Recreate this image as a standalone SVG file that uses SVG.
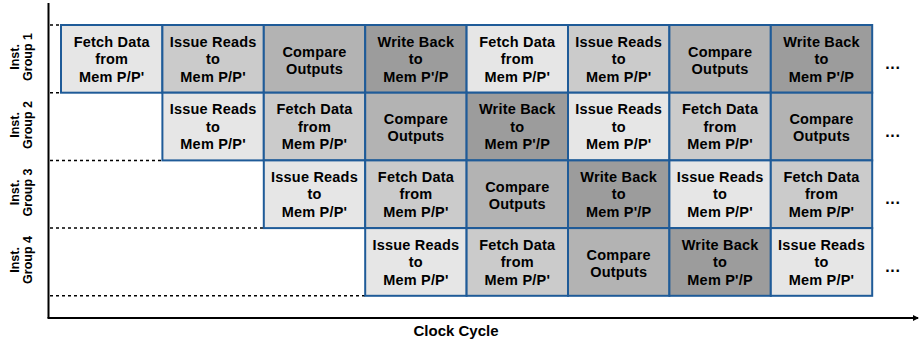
<svg xmlns="http://www.w3.org/2000/svg" width="920" height="340" viewBox="0 0 920 340">
<defs>
<style>
.c rect{stroke:#1f5b98;stroke-width:2}
.s1{fill:#e6e6e6}.s2{fill:#cbcbcb}.s3{fill:#b3b3b3}.s4{fill:#9c9c9c}
.c text,.t{font-family:"Liberation Sans",Arial,sans-serif;font-weight:bold;font-size:14.5px;letter-spacing:0.2px;text-anchor:middle;fill:#000}
.t{font-size:15px;letter-spacing:0}
.el{font-family:"Liberation Sans",Arial,sans-serif;font-weight:bold;font-size:16px;letter-spacing:0.8px;text-anchor:middle;fill:#000}
.lab{font-family:"Liberation Sans",Arial,sans-serif;font-weight:bold;font-size:12.5px;text-anchor:middle;fill:#000}
.dot{stroke:#000;stroke-width:1.5;stroke-dasharray:3,3;fill:none}
.ax{stroke:#000;stroke-width:2;fill:none}
</style>
<marker id="ah" markerWidth="6" markerHeight="6" refX="5" refY="3" orient="auto" markerUnits="userSpaceOnUse">
<path d="M0,0 L6,3 L0,6 Z" fill="#000"/>
</marker>
</defs>
<rect width="920" height="340" fill="#fff"/>

<g id="axes">
<path class="ax" d="M48.5,3 V318"/>
<path class="ax" d="M47.5,318 H918" marker-end="url(#ah)"/>
<path class="dot" d="M50,25 H61 M50,92.7 H61 M50,160.4 H162.4 M50,228.1 H263.8 M50,295.8 H365.2"/>
<text class="t" x="456" y="336">Clock Cycle</text>
</g>

<g id="row-labels">
<g transform="translate(0,57) rotate(-90)"><text class="lab" x="0" y="19">Inst.</text><text class="lab" x="0" y="32">Group 1</text></g>
<g transform="translate(0,125) rotate(-90)"><text class="lab" x="0" y="19">Inst.</text><text class="lab" x="0" y="32">Group 2</text></g>
<g transform="translate(0,192.5) rotate(-90)"><text class="lab" x="0" y="19">Inst.</text><text class="lab" x="0" y="32">Group 3</text></g>
<g transform="translate(0,260) rotate(-90)"><text class="lab" x="0" y="19">Inst.</text><text class="lab" x="0" y="32">Group 4</text></g>
</g>

<!-- Row 1 -->
<g id="g1c1" class="c"><rect class="s1" x="61" y="25" width="101.4" height="67.7"/><text x="111.7" y="46.5">Fetch Data</text><text x="111.7" y="64">from</text><text x="111.7" y="81.5">Mem P/P'</text></g>
<g id="g1c2" class="c"><rect class="s2" x="162.4" y="25" width="101.4" height="67.7"/><text x="213.1" y="46.5">Issue Reads</text><text x="213.1" y="64">to</text><text x="213.1" y="81.5">Mem P/P'</text></g>
<g id="g1c3" class="c"><rect class="s3" x="263.8" y="25" width="101.4" height="67.7"/><text x="314.5" y="56.5">Compare</text><text x="314.5" y="73.5">Outputs</text></g>
<g id="g1c4" class="c"><rect class="s4" x="365.2" y="25" width="101.4" height="67.7"/><text x="415.9" y="46.5">Write Back</text><text x="415.9" y="64">to</text><text x="415.9" y="81.5">Mem P'/P</text></g>
<g id="g1c5" class="c"><rect class="s1" x="466.6" y="25" width="101.4" height="67.7"/><text x="517.3" y="46.5">Fetch Data</text><text x="517.3" y="64">from</text><text x="517.3" y="81.5">Mem P/P'</text></g>
<g id="g1c6" class="c"><rect class="s2" x="568" y="25" width="101.4" height="67.7"/><text x="618.7" y="46.5">Issue Reads</text><text x="618.7" y="64">to</text><text x="618.7" y="81.5">Mem P/P'</text></g>
<g id="g1c7" class="c"><rect class="s3" x="669.4" y="25" width="101.4" height="67.7"/><text x="720.1" y="56.5">Compare</text><text x="720.1" y="73.5">Outputs</text></g>
<g id="g1c8" class="c"><rect class="s4" x="770.8" y="25" width="101.4" height="67.7"/><text x="821.5" y="46.5">Write Back</text><text x="821.5" y="64">to</text><text x="821.5" y="81.5">Mem P'/P</text></g>

<!-- Row 2 -->
<g id="g2c2" class="c"><rect class="s1" x="162.4" y="92.7" width="101.4" height="67.7"/><text x="213.1" y="114.2">Issue Reads</text><text x="213.1" y="131.7">to</text><text x="213.1" y="149.2">Mem P/P'</text></g>
<g id="g2c3" class="c"><rect class="s2" x="263.8" y="92.7" width="101.4" height="67.7"/><text x="314.5" y="114.2">Fetch Data</text><text x="314.5" y="131.7">from</text><text x="314.5" y="149.2">Mem P/P'</text></g>
<g id="g2c4" class="c"><rect class="s3" x="365.2" y="92.7" width="101.4" height="67.7"/><text x="415.9" y="124.2">Compare</text><text x="415.9" y="141.2">Outputs</text></g>
<g id="g2c5" class="c"><rect class="s4" x="466.6" y="92.7" width="101.4" height="67.7"/><text x="517.3" y="114.2">Write Back</text><text x="517.3" y="131.7">to</text><text x="517.3" y="149.2">Mem P'/P</text></g>
<g id="g2c6" class="c"><rect class="s1" x="568" y="92.7" width="101.4" height="67.7"/><text x="618.7" y="114.2">Issue Reads</text><text x="618.7" y="131.7">to</text><text x="618.7" y="149.2">Mem P/P'</text></g>
<g id="g2c7" class="c"><rect class="s2" x="669.4" y="92.7" width="101.4" height="67.7"/><text x="720.1" y="114.2">Fetch Data</text><text x="720.1" y="131.7">from</text><text x="720.1" y="149.2">Mem P/P'</text></g>
<g id="g2c8" class="c"><rect class="s3" x="770.8" y="92.7" width="101.4" height="67.7"/><text x="821.5" y="124.2">Compare</text><text x="821.5" y="141.2">Outputs</text></g>

<!-- Row 3 -->
<g id="g3c3" class="c"><rect class="s1" x="263.8" y="160.4" width="101.4" height="67.7"/><text x="314.5" y="181.9">Issue Reads</text><text x="314.5" y="199.4">to</text><text x="314.5" y="216.9">Mem P/P'</text></g>
<g id="g3c4" class="c"><rect class="s2" x="365.2" y="160.4" width="101.4" height="67.7"/><text x="415.9" y="181.9">Fetch Data</text><text x="415.9" y="199.4">from</text><text x="415.9" y="216.9">Mem P/P'</text></g>
<g id="g3c5" class="c"><rect class="s3" x="466.6" y="160.4" width="101.4" height="67.7"/><text x="517.3" y="191.9">Compare</text><text x="517.3" y="208.9">Outputs</text></g>
<g id="g3c6" class="c"><rect class="s4" x="568" y="160.4" width="101.4" height="67.7"/><text x="618.7" y="181.9">Write Back</text><text x="618.7" y="199.4">to</text><text x="618.7" y="216.9">Mem P'/P</text></g>
<g id="g3c7" class="c"><rect class="s1" x="669.4" y="160.4" width="101.4" height="67.7"/><text x="720.1" y="181.9">Issue Reads</text><text x="720.1" y="199.4">to</text><text x="720.1" y="216.9">Mem P/P'</text></g>
<g id="g3c8" class="c"><rect class="s2" x="770.8" y="160.4" width="101.4" height="67.7"/><text x="821.5" y="181.9">Fetch Data</text><text x="821.5" y="199.4">from</text><text x="821.5" y="216.9">Mem P/P'</text></g>

<!-- Row 4 -->
<g id="g4c4" class="c"><rect class="s1" x="365.2" y="228.1" width="101.4" height="67.7"/><text x="415.9" y="249.6">Issue Reads</text><text x="415.9" y="267.1">to</text><text x="415.9" y="284.6">Mem P/P'</text></g>
<g id="g4c5" class="c"><rect class="s2" x="466.6" y="228.1" width="101.4" height="67.7"/><text x="517.3" y="249.6">Fetch Data</text><text x="517.3" y="267.1">from</text><text x="517.3" y="284.6">Mem P/P'</text></g>
<g id="g4c6" class="c"><rect class="s3" x="568" y="228.1" width="101.4" height="67.7"/><text x="618.7" y="259.6">Compare</text><text x="618.7" y="276.6">Outputs</text></g>
<g id="g4c7" class="c"><rect class="s4" x="669.4" y="228.1" width="101.4" height="67.7"/><text x="720.1" y="249.6">Write Back</text><text x="720.1" y="267.1">to</text><text x="720.1" y="284.6">Mem P'/P</text></g>
<g id="g4c8" class="c"><rect class="s1" x="770.8" y="228.1" width="101.4" height="67.7"/><text x="821.5" y="249.6">Issue Reads</text><text x="821.5" y="267.1">to</text><text x="821.5" y="284.6">Mem P/P'</text></g>

<g id="ellipses">
<text class="el" x="893" y="69">...</text>
<text class="el" x="893" y="136.7">...</text>
<text class="el" x="893" y="204.4">...</text>
<text class="el" x="893" y="272.1">...</text>
</g>
</svg>
